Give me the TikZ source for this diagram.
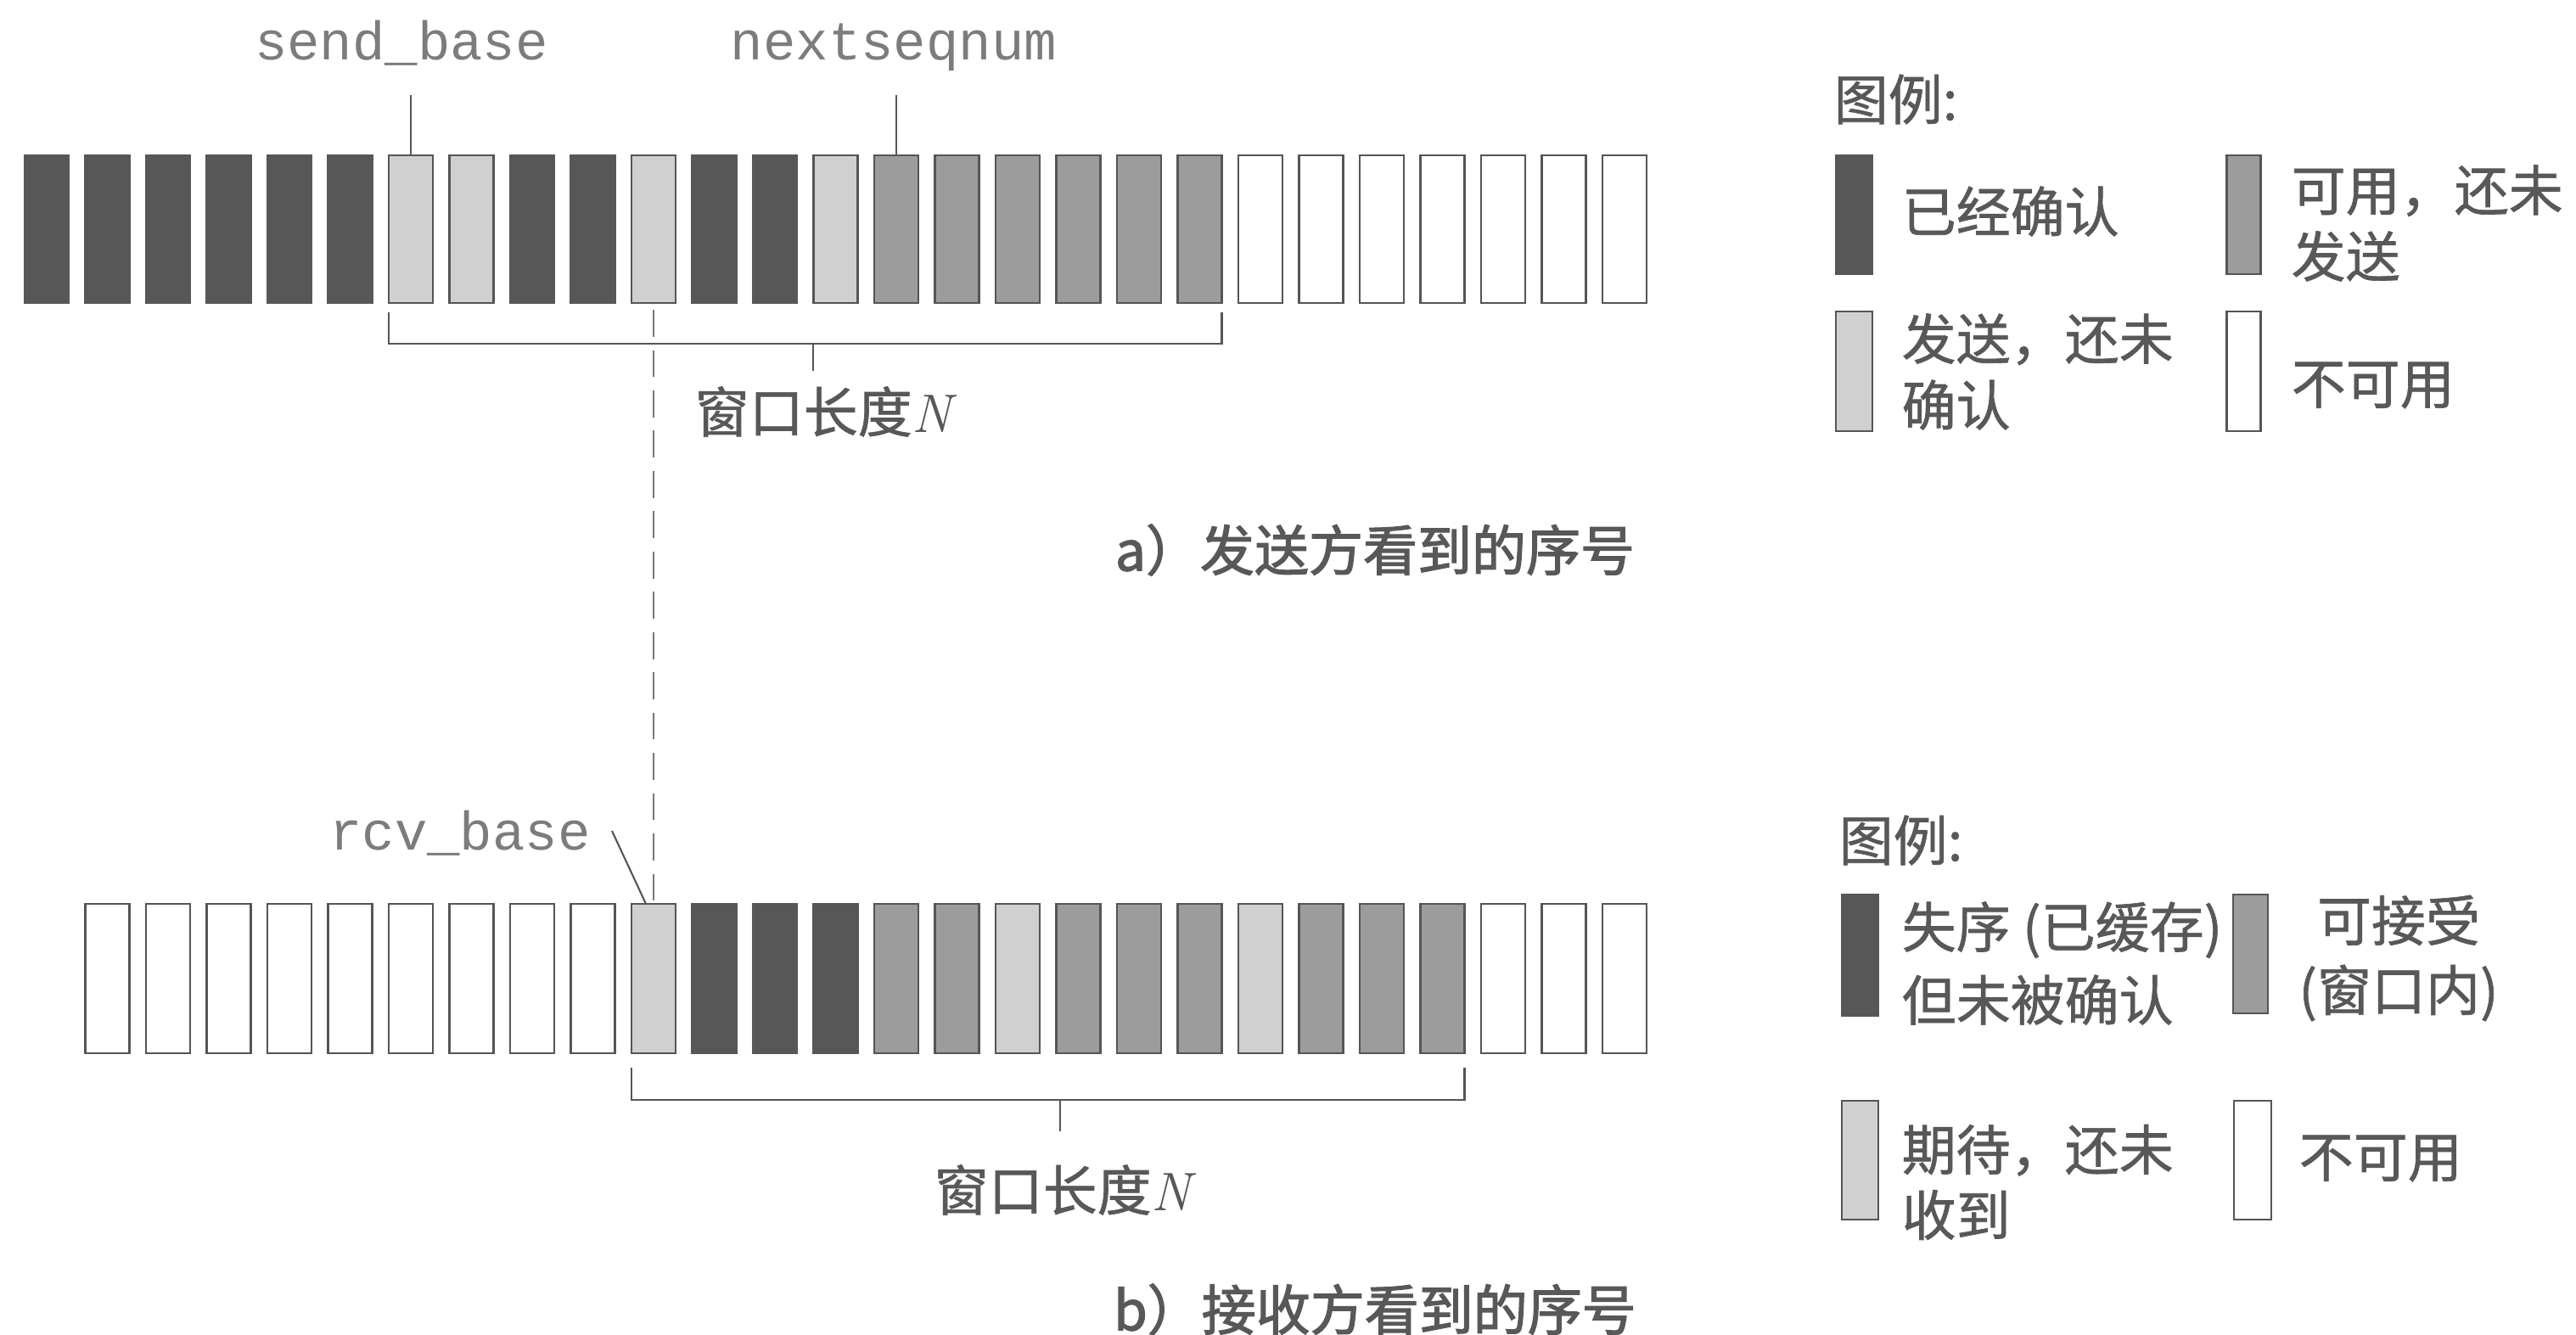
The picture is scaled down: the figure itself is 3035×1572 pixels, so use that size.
\documentclass[tikz,border=0pt]{standalone}
\usepackage{fontspec}
\newfontfamily\cjk[FakeBold=1.0]{Noto Sans CJK SC}
\newfontfamily\cjkbold[FakeBold=2.0]{Noto Sans CJK SC}
\newfontfamily\monofam{Liberation Mono}
\usetikzlibrary{calc}
\definecolor{dk}{HTML}{575757}
\definecolor{lt}{HTML}{D0D0D0}
\definecolor{md}{HTML}{9C9C9C}
\definecolor{ol}{HTML}{555555}
\definecolor{tx}{HTML}{585858}
\definecolor{lblc}{HTML}{7C7C7C}
\tikzset{
  seg/.style={draw=ol, line width=0.8pt, inner sep=0pt, outer sep=0pt, minimum width=0.52cm},
  toprow/.style={seg, minimum height=1.74cm},
  botrow/.style={seg, minimum height=1.76cm},
  cA/.style={fill=dk, draw=dk},
  cS/.style={fill=lt},
  cU/.style={fill=md},
  cN/.style={fill=white},
  lseg/.style={draw=ol, line width=0.8pt, inner sep=0pt, outer sep=0pt},
  ptr/.style={draw=ol, line width=0.6pt},
  brk/.style={draw=ol, line width=0.7pt},
  dashln/.style={draw=ol!80, line width=0.6pt, dash pattern=on 9pt off 4.5pt},
  lbl/.style={text=lblc, font=\monofam\fontsize{18.2}{20}\selectfont, inner sep=0pt},
  txt/.style={text=tx, font=\cjk\fontsize{18.2}{21}\selectfont, inner sep=0pt},
  captxt/.style={text=tx, font=\cjkbold\fontsize{18.2}{21}\selectfont, inner sep=0pt},
}
\begin{document}
\begin{tikzpicture}[x=0.01cm,y=-0.01cm]
\path[fill=white,use as bounding box] (0,0) rectangle (3035,1572);

% ---------- sender row ----------
\foreach \c [count=\i] in {cA,cA,cA,cA,cA,cA,cS,cS,cA,cA,cS,cA,cA,cS,cU,cU,cU,cU,cU,cU,cN,cN,cN,cN,cN,cN,cN}
  \node[toprow,\c] (t\i) at ({55+(\i-1)*71.5},270) {};

% ---------- receiver row ----------
\foreach \c [count=\i from 2] in {cN,cN,cN,cN,cN,cN,cN,cN,cN,cS,cA,cA,cA,cU,cU,cS,cU,cU,cU,cS,cU,cU,cU,cN,cN,cN}
  \node[botrow,\c] (b\i) at ({55+(\i-1)*71.5},1153) {};

% ---------- pointer labels ----------
\node[lbl, anchor=base] (sb) at (473,70) {send\_base};
\node[lbl, anchor=base] (ns) at (1053,70) {nextseqnum};
\node[lbl, anchor=base] (rb) at (542,1001) {rcv\_base};
\coordinate (sbp) at (484,112);
\coordinate (nsp) at (1056,112);
\coordinate (rbp) at (721,979);
\draw[ptr] (sbp) -- (t7.north);
\draw[ptr] (nsp) -- (t15.north);
\draw[ptr] (rbp) -- ($(b11.north)+(-9,0)$);

% ---------- window brackets ----------
\draw[brk] ($(t7.south west)+(0,11)$) |- ($(t20.south east)+(0,48)$) -- ($(t20.south east)+(0,11)$);
\coordinate (wat) at (958,405);
\draw[brk] (wat) -- ++(0,32);
\node[txt] (wal) at (970,485) {窗口长度{\rmfamily\itshape N}};

\draw[brk] ($(b11.south west)+(0,17)$) |- ($(b24.south east)+(0,55)$) -- ($(b24.south east)+(0,17)$);
\coordinate (wbt) at (1249,1296);
\draw[brk] (wbt) -- ++(0,37);
\node[txt] (wbl) at (1252,1402) {窗口长度{\rmfamily\itshape N}};

% ---------- dashed alignment line ----------
\draw[dashln] ($(t11.south)+(0,8)$) -- (b11.north);

% ---------- captions ----------
\node[captxt] (capa) at (1620,648) {a）发送方看到的序号};
\node[captxt] (capb) at (1620,1543) {b）接收方看到的序号};

% ---------- legend (sender) ----------
\node[txt, anchor=west] (lg1) at (2160,117) {图例:};
\node[lseg, fill=dk, draw=dk, minimum width=0.43cm, minimum height=1.40cm] (k1) at (2184.5,253) {};
\node[txt, anchor=west] (k1t) at (2240,249) {已经确认};
\node[lseg, fill=md, minimum width=0.40cm, minimum height=1.40cm] (k2) at (2643.5,253) {};
\node[txt, anchor=west, align=left, font=\cjk\fontsize{18.2}{22.2}\selectfont] (k2t) at (2699,263) {可用，还未\\发送};
\node[lseg, fill=lt, minimum width=0.43cm, minimum height=1.41cm] (k3) at (2184.5,437.5) {};
\node[txt, anchor=west, align=left, font=\cjk\fontsize{18.2}{22.2}\selectfont] (k3t) at (2240,438) {发送，还未\\确认};
\node[lseg, fill=white, minimum width=0.40cm, minimum height=1.41cm] (k4) at (2643.5,437.5) {};
\node[txt, anchor=west] (k4t) at (2699,454) {不可用};

% ---------- legend (receiver) ----------
\node[txt, anchor=west] (lg2) at (2166,990) {图例:};
\node[lseg, fill=dk, draw=dk, minimum width=0.43cm, minimum height=1.43cm] (m1) at (2191.5,1125.5) {};
\node[txt, anchor=west, align=left, font=\cjk\fontsize{18.2}{24.5}\selectfont] (m1t) at (2240,1135) {失序 (已缓存)\\但未被确认};
\node[lseg, fill=md, minimum width=0.41cm, minimum height=1.40cm] (m2) at (2651.5,1124) {};
\node[txt, align=center, font=\cjk\fontsize{18.2}{23.3}\selectfont] (m2t) at (2826,1129) {可接受\\(窗口内)};
\node[lseg, fill=lt, minimum width=0.43cm, minimum height=1.40cm] (m3) at (2191.5,1367) {};
\node[txt, anchor=west, align=left, font=\cjk\fontsize{18.2}{21.9}\selectfont] (m3t) at (2240,1393) {期待，还未\\收到};
\node[lseg, fill=white, minimum width=0.44cm, minimum height=1.40cm] (m4) at (2654,1367) {};
\node[txt, anchor=west] (m4t) at (2708,1365) {不可用};
\end{tikzpicture}
\end{document}
